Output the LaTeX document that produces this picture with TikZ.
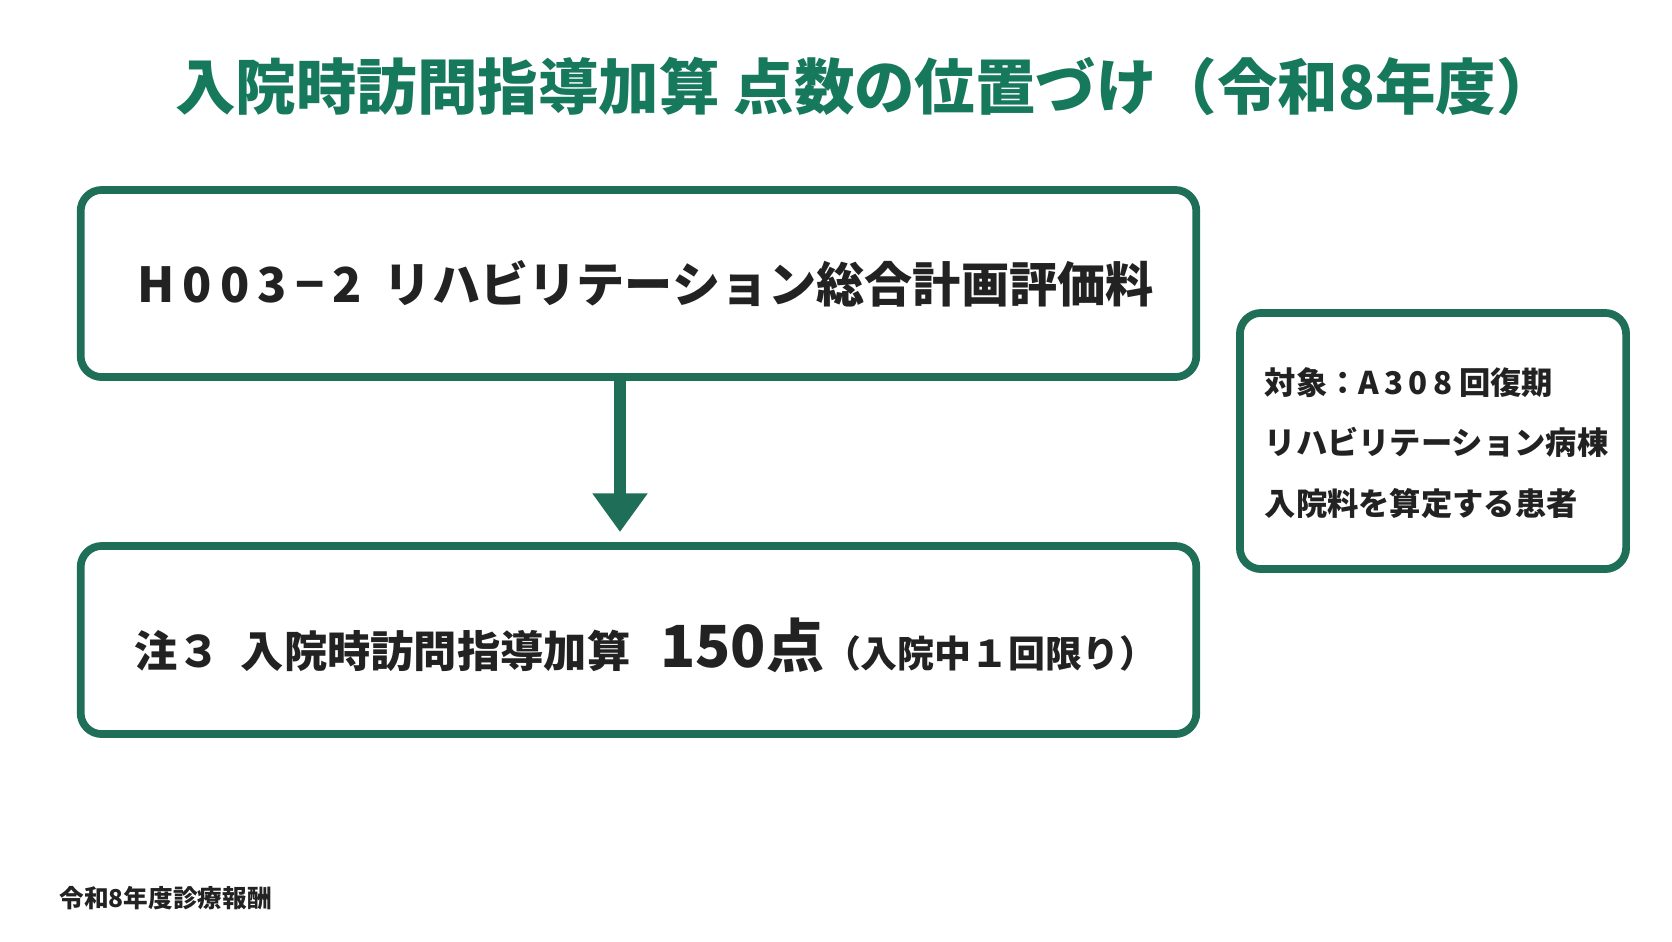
\documentclass[tikz,border=0pt]{standalone}
\usepackage{fontspec}
\setmainfont{Noto Sans CJK JP}
\usetikzlibrary{positioning,arrows.meta}
\definecolor{boxgreen}{HTML}{1E6E58}
\definecolor{titlegreen}{HTML}{17795C}
\definecolor{ink}{HTML}{222222}
\tikzset{
  panel/.style = {draw=boxgreen, line width=2.2pt, rounded corners=6pt},
  label/.style = {text=ink, inner sep=0pt, anchor=west, font=\bfseries}
}
\begin{document}
\begin{tikzpicture}[x=0.01cm,y=-0.01cm]
	\useasboundingbox[fill=white] (0,0) rectangle (1672,941);
	
	% Title
	\node[text=titlegreen, font=\fontsize{17.2}{19}\selectfont\bfseries] (title) at (866,86)
		{入院時訪問指導加算 点数の位置づけ（令和8年度）};
	
	% Boxes
	\node[panel, minimum width=11.15cm, minimum height=1.87cm] (calc) at (638.5,283.5) {};
	\node[panel, minimum width=11.15cm, minimum height=1.88cm] (note) at (638.5,640) {};
	\node[panel, minimum width=3.86cm, minimum height=2.56cm] (target) at (1433,441) {};
	
	% Texts
	\node[label, font=\fontsize{13.7}{16}\selectfont\bfseries] (calctext) at (137,284)
		{H\,0\,0\,3\,−\,2\ \ リハビリテーション総合計画評価料};
	\node[label, font=\fontsize{12.3}{14}\selectfont\bfseries] (notetext) at (134,645)
		{注３\ \ 入院時訪問指導加算\ \ \ {\fontsize{16.5}{20}\selectfont 150点}{\fontsize{10.5}{13}\selectfont （入院中１回限り）}};
	\node[label, font=\fontsize{8.9}{17.2}\selectfont\bfseries, align=left] (targettext) at (1264,443)
		{対象：A\,3\,0\,8 回復期\\リハビリテーション病棟\\入院料を算定する患者};
	
	% Footer
	\node[label, font=\fontsize{7}{8}\selectfont\bfseries] (footer) at (59,898) {令和8年度診療報酬};
	
	% Arrow
	\draw[boxgreen, line width=3.2pt, -{Triangle[length=11pt,width=15pt]}] (calc.south -| 620,0) -- (620,532);
\end{tikzpicture}
\end{document}
